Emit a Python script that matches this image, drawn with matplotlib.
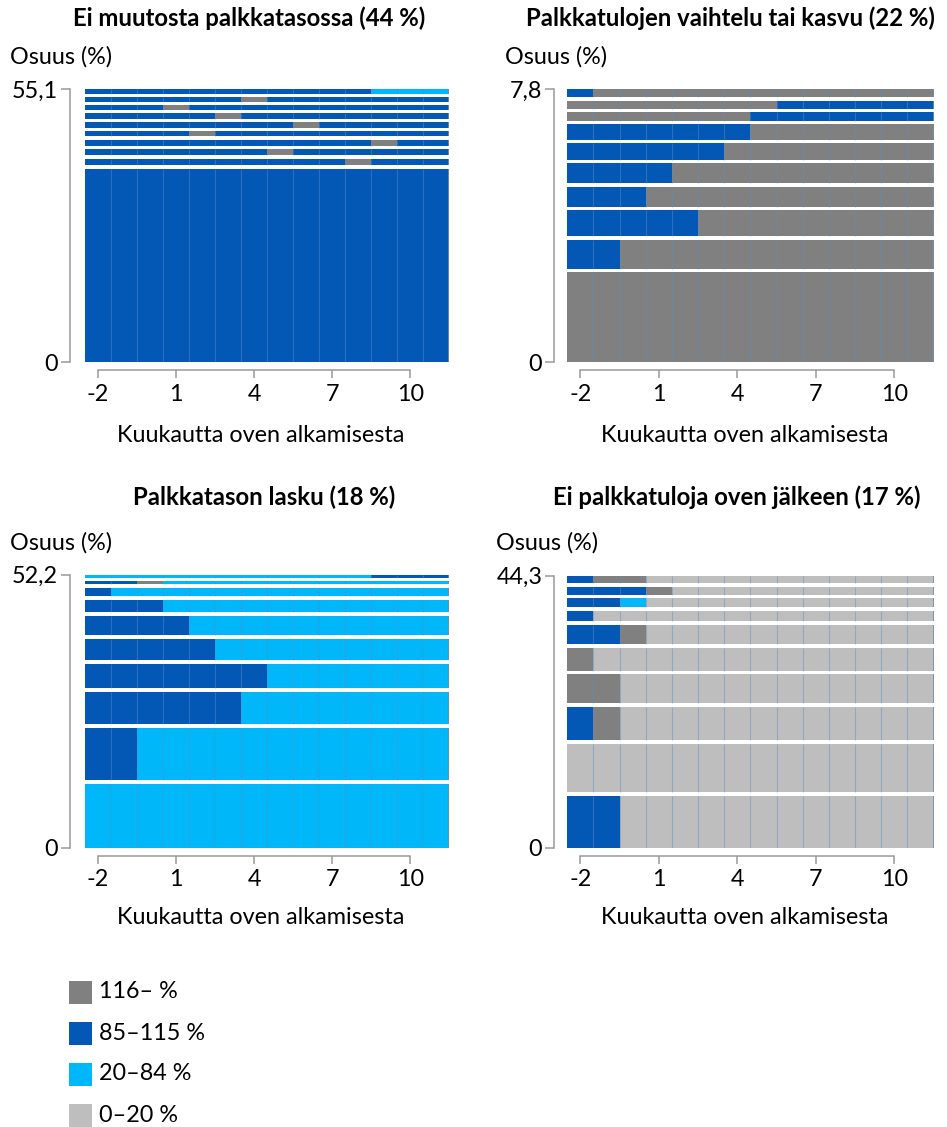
import matplotlib
matplotlib.use('Agg')
import matplotlib.pyplot as plt
from matplotlib.patches import Rectangle

plt.rcParams['font.family'] = ['Lato', 'DejaVu Sans']

W, H, DPI = 947, 1127, 100

# ---------------- data ----------------
months = list(range(-2, 12))          # month columns shown
xticks = [-2, 1, 4, 7, 10]
state_colors = {'G': '#808080', 'B': '#0357B5', 'C': '#00B7F9', 'L': '#BEBEBE'}
legend_states = ['G', 'B', 'C', 'L']
legend_labels = ['116– %', '85–115 %', '20–84 %', '0–20 %']

titles = ['Ei muutosta palkkatasossa (44 %)',
          'Palkkatulojen vaihtelu tai kasvu (22 %)',
          'Palkkatason lasku (18 %)',
          'Ei palkkatuloja oven jälkeen (17 %)']
ytops = [55.1, 7.8, 52.2, 44.3]
ytop_labels = ['55,1', '7,8', '52,2', '44,3']

# sequences listed bottom -> top, one letter per month (-2 ... 11)
p1_seqs = ['BBBBBBBBBBBBBB', 'BBBBBBBBBBGBBB', 'BBBBBBBGBBBBBB', 'BBBBBBBBBBBGBB',
           'BBBBGBBBBBBBBB', 'BBBBBBBBGBBBBB', 'BBBBBGBBBBBBBB', 'BBBGBBBBBBBBBB',
           'BBBBBBGBBBBBBB', 'BBBBBBBBBBBCCC']
p1_freq = [39.05, 2.0, 1.9, 1.9, 1.8, 1.8, 1.8, 1.65, 1.6, 1.6]

p2_seqs = ['GGGGGGGGGGGGGG', 'BBGGGGGGGGGGGG', 'BBBBBGGGGGGGGG', 'BBBGGGGGGGGGGG',
           'BBBBGGGGGGGGGG', 'BBBBBBGGGGGGGG', 'BBBBBBBGGGGGGG', 'GGGGGGGBBBBBBB',
           'GGGGGGGGBBBBBB', 'BGGGGGGGGGGGGG']
p2_freq = [2.57, 0.93, 0.84, 0.67, 0.67, 0.57, 0.55, 0.34, 0.33, 0.33]

p3_seqs = ['CCCCCCCCCCCCCC', 'BBCCCCCCCCCCCC', 'BBBBBBCCCCCCCC', 'BBBBBBBCCCCCCC',
           'BBBBBCCCCCCCCC', 'BBBBCCCCCCCCCC', 'BBBCCCCCCCCCCC', 'BCCCCCCCCCCCCC',
           'BBGCCCCCCCCCCC', 'CCCCCCCCCCCBBB']
p3_freq = [12.21, 10.7, 6.87, 5.4, 4.71, 4.39, 3.11, 2.23, 1.31, 1.27]

p4_seqs = ['BBLLLLLLLLLLLL', 'LLLLLLLLLLLLLL', 'BGLLLLLLLLLLLL', 'GGLLLLLLLLLLLL',
           'GLLLLLLLLLLLLL', 'BBGLLLLLLLLLLL', 'BLLLLLLLLLLLLL', 'BBCLLLLLLLLLLL',
           'BBBGLLLLLLLLLL', 'BGGLLLLLLLLLLL']
p4_freq = [8.51, 8.4, 6.06, 5.28, 4.31, 3.72, 2.29, 2.02, 1.87, 1.84]

panels = [(p1_seqs, p1_freq), (p2_seqs, p2_freq), (p3_seqs, p3_freq), (p4_seqs, p4_freq)]

# ---------------- layout (pixels) ----------------
boxes = [(85, 449.3, 89.3, 362), (567.3, 933.5, 89.3, 362),
         (85, 449.3, 574.5, 848), (567.3, 933.5, 575.5, 848)]
title_pos = [(249, 18, 'center'), (526, 18, 'left'), (264, 497, 'center'), (737, 497, 'center')]
osuus_pos = [(10, 57), (505, 57), (10, 543), (496, 543)]
xlabel_pos = [(261, 435), (745, 435), (261, 918), (745, 918)]
yaxis_offset = [15, 13, 15, 13]

FS = 16.8
FT = 17.2
fig = plt.figure(figsize=(W / DPI, H / DPI), dpi=DPI)
px2pt = 72.0 / DPI

for i, (seqs, freqs) in enumerate(panels):
    l, r, t, b = boxes[i]
    ax = fig.add_axes([l / W, 1 - b / H, (r - l) / W, (b - t) / H])
    total = ytops[i]
    gap = total * 3.6 / (b - t)
    cum = 0.0
    seg_y0, seg_y1 = [], []
    for k, (s, f) in enumerate(zip(seqs, freqs)):
        y0 = cum + (gap if k > 0 else 0.0)
        h = cum + f - y0
        j = 0
        while j < len(s):
            e = j
            while e < len(s) and s[e] == s[j]:
                e += 1
            ax.barh(y0, e - j, left=months[j] - 0.5, height=h, align='edge',
                    color=state_colors[s[j]], linewidth=0)
            j = e
        seg_y0.append(y0)
        seg_y1.append(y0 + h)
        cum += f
    for y0, y1 in zip(seg_y0, seg_y1):
        ax.vlines([m - 0.5 for m in months[1:]], y0, y1, colors='#5b8fc7',
                  linewidth=0.8, alpha=0.45)
        ax.vlines([months[-1] + 0.5], y0, y1, colors='#6f8fb0', linewidth=1.2)
    ax.set_xlim(months[0] - 0.5, months[-1] + 0.5)
    ax.set_ylim(0, total)
    for sp in ['top', 'right']:
        ax.spines[sp].set_visible(False)
    ax.spines['left'].set_position(('outward', yaxis_offset[i] * px2pt))
    ax.spines['bottom'].set_position(('outward', 7.5 * px2pt))
    ax.spines['left'].set_bounds(0, total)
    ax.spines['bottom'].set_bounds(xticks[0], xticks[-1])
    for sp in ['left', 'bottom']:
        ax.spines[sp].set_color('#9a9a9a')
        ax.spines[sp].set_linewidth(1.1)
    ax.set_yticks([0, total])
    ax.set_yticklabels(['0', ytop_labels[i]])
    ax.set_xticks(xticks)
    ax.set_xticklabels([str(x) for x in xticks])
    ax.tick_params(axis='y', length=9 * px2pt, width=1.1, color='#9a9a9a',
                   labelsize=FS, pad=3 * px2pt)
    ax.tick_params(axis='x', length=8 * px2pt, width=1.1, color='#9a9a9a',
                   labelsize=FS, pad=6 * px2pt)
    ax.set_facecolor('none')

    tx, ty, ha = title_pos[i]
    fig.text(tx / W, 1 - ty / H, titles[i], ha=ha, va='center',
             fontsize=FT, fontweight='bold')
    ox, oy = osuus_pos[i]
    fig.text(ox / W, 1 - oy / H, 'Osuus (%)', ha='left', va='center', fontsize=FS)
    lx, ly = xlabel_pos[i]
    fig.text(lx / W, 1 - ly / H, 'Kuukautta oven alkamisesta', ha='center',
             va='center', fontsize=FS)

# legend
leg_y = [992, 1033, 1074, 1115]
for st, lab, y in zip(legend_states, legend_labels, leg_y):
    fig.add_artist(Rectangle((68.5 / W, 1 - (y + 11.5) / H), 23.5 / W, 23 / H,
                             transform=fig.transFigure, color=state_colors[st],
                             linewidth=0))
    fig.text(99 / W, 1 - y / H, lab, ha='left', va='center', fontsize=FS)

fig.savefig('out.png', dpi=DPI)
